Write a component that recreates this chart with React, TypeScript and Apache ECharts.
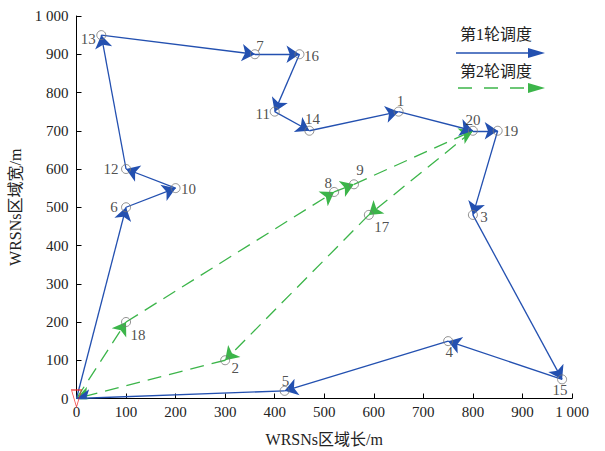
import React, { useEffect, useRef } from "react";
import * as echarts from "echarts";

// Node data (id, x, y)
const nodeIds = [1, 2, 3, 4, 5, 6, 7, 8, 9, 10, 11, 12, 13, 14, 15, 16, 17, 18, 19, 20];
const nodeX = [650, 300, 800, 750, 420, 100, 360, 520, 560, 200, 400, 100, 50, 470, 980, 450, 590, 100, 850, 800];
const nodeY = [750, 100, 480, 150, 20, 500, 900, 540, 560, 550, 750, 600, 950, 700, 50, 900, 480, 200, 700, 700];
const startPoint = [0, 0];

// Routes (0 = start/base)
const round1Route = [0, 6, 10, 12, 13, 7, 16, 11, 14, 1, 20, 19, 3, 15, 4, 5, 0];
const round2Route = [0, 18, 8, 9, 20, 17, 2, 0];

const legendNames = ["第1轮调度", "第2轮调度"];

// label offsets (style only)
const labelOffsets: Record<number, [number, number]> = {
  1: [2, -11], 2: [10, 8], 3: [11, 2], 4: [1, 11], 5: [1, -10], 6: [-12, 0],
  7: [5, -8], 8: [-6, -9], 9: [6, -14], 10: [13, 1], 11: [-12, 2], 12: [-15, 0],
  13: [-13, 4], 14: [3, -12], 15: [-2, 11], 16: [12, 2], 17: [13, 12], 18: [12, 13],
  19: [13, 0], 20: [0, -11],
};

const BLUE = "#2350b0";
const GREEN = "#3cb54a";
const FONT = "Liberation Serif, Noto Sans CJK SC, serif";

function coordOf(id: number): number[] {
  if (id === 0) return startPoint;
  const i = nodeIds.indexOf(id);
  return [nodeX[i], nodeY[i]];
}

function segments(route: number[]) {
  const out: any[] = [];
  for (let i = 0; i < route.length - 1; i++) {
    out.push({ coords: [coordOf(route[i]), coordOf(route[i + 1])] });
  }
  return out;
}

export default function App() {
  const ref = useRef<HTMLDivElement>(null);
  useEffect(() => {
    if (!ref.current) return;
    const chart = echarts.init(ref.current, undefined, { renderer: "svg" });
    const fmt = (v: number) => (v === 1000 ? "1 000" : String(v));
    const axisCommon = {
      type: "value" as const,
      min: 0,
      max: 1000,
      interval: 100,
      axisLine: { show: true, lineStyle: { color: "#000", width: 1 } },
      axisTick: { show: true, inside: true, length: 5, lineStyle: { color: "#000" } },
      splitLine: { show: false },
      nameLocation: "middle" as const,
      nameTextStyle: { fontFamily: FONT, fontSize: 16, color: "#222" },
    };
    chart.setOption({
      animation: false,
      backgroundColor: "#fff",
      grid: { left: 76.5, right: 33, top: 16, bottom: 52.5, outerBoundsMode: "none", containLabel: false },
      xAxis: {
        ...axisCommon,
        name: "WRSNs区域长/m",
        nameGap: 33,
        nameTextStyle: { fontFamily: FONT, fontSize: 16, color: "#222", lineHeight: 16 },
        axisLabel: { formatter: fmt, fontFamily: FONT, fontSize: 15, color: "#222", margin: 6 },
      },
      yAxis: {
        ...axisCommon,
        name: "WRSNs区域宽/m",
        nameGap: 49,
        nameRotate: 90,
        axisLabel: { formatter: fmt, fontFamily: FONT, fontSize: 15, color: "#222", margin: 8 },
      },
      series: [
        {
          type: "lines",
          coordinateSystem: "cartesian2d",
          data: segments(round2Route),
          symbol: ["none", "arrow"],
          symbolSize: [0, 13],
          lineStyle: { color: GREEN, width: 1.3, type: [14, 8], opacity: 1 },
          itemStyle: { color: GREEN },
          z: 2,
        },
        {
          type: "lines",
          coordinateSystem: "cartesian2d",
          data: segments(round1Route),
          symbol: ["none", "arrow"],
          symbolSize: [0, 13],
          lineStyle: { color: BLUE, width: 1.3, opacity: 1 },
          itemStyle: { color: BLUE },
          z: 3,
        },
        {
          type: "scatter",
          data: nodeIds.map((id, i) => ({
            value: [nodeX[i], nodeY[i]],
            label: { offset: labelOffsets[id] },
            name: String(id),
          })),
          symbol: "circle",
          symbolSize: 9,
          itemStyle: { color: "rgba(0,0,0,0)", borderColor: "#777", borderWidth: 1 },
          label: {
            show: true,
            position: "inside",
            formatter: (p: any) => p.name,
            fontFamily: FONT,
            fontSize: 15,
            color: "#222",
          },
          z: 4,
        },
        {
          type: "scatter",
          data: [startPoint],
          symbol: "triangle",
          symbolRotate: 180,
          symbolSize: [10, 17],
          itemStyle: { color: "rgba(0,0,0,0)", borderColor: "#ee2222", borderWidth: 1 },
          z: 5,
        },
      ],
      graphic: [
        {
          type: "text",
          left: 460,
          top: 26,
          style: { text: legendNames[0], font: `16px ${FONT}`, fill: "#222" },
        },
        {
          type: "line",
          shape: { x1: 456, y1: 53, x2: 530, y2: 53 },
          style: { stroke: BLUE, lineWidth: 1.5 },
        },
        {
          type: "polygon",
          shape: { points: [[528, 48], [545, 53], [528, 58]] },
          style: { fill: BLUE },
        },
        {
          type: "text",
          left: 460,
          top: 63,
          style: { text: legendNames[1], font: `16px ${FONT}`, fill: "#222" },
        },
        {
          type: "line",
          shape: { x1: 458, y1: 88, x2: 530, y2: 88 },
          style: { stroke: GREEN, lineWidth: 1.5, lineDash: [14, 12] },
        },
        {
          type: "polygon",
          shape: { points: [[528, 83], [545, 88], [528, 93]] },
          style: { fill: GREEN },
        },
      ],
    });
    return () => chart.dispose();
  }, []);
  return (
    <div
      ref={ref}
      style={{ position: "fixed", left: 0, top: 0, width: 605, height: 451 }}
    />
  );
}
